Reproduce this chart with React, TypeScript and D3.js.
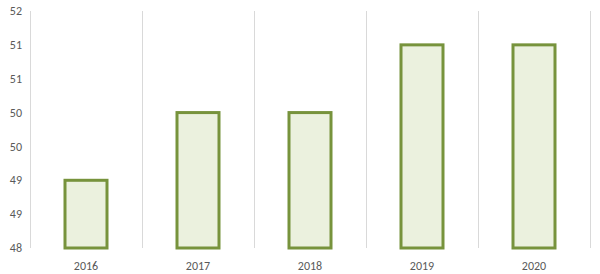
import React from "react";
import * as d3 from "d3";

const categories = ["2016", "2017", "2018", "2019", "2020"];
const values = [49, 50, 50, 51, 51];
const yTicks = [48, 48.5, 49, 49.5, 50, 50.5, 51, 51.5];

const W = 600, H = 274;
const left = 30, right = 590, top = 11, bottom = 248;

export default function App() {
  const x = d3.scaleBand<string>().domain(categories).range([left, right]).paddingInner(0).paddingOuter(0);
  const y = d3.scaleLinear().domain([48, 51.5]).range([bottom, top]);
  const fmt = d3.format(".0f");
  const barW = 42;
  const font = "Calibri, Carlito, 'Liberation Sans', Arial, sans-serif";
  const bounds = [...categories.map((c) => x(c)!), right];
  return (
    <svg width={W} height={H} style={{ position: "absolute", left: 0, top: 0, background: "#fff" }}>
      {bounds.map((bx, i) => (
        <line key={i} x1={bx + 0.5} x2={bx + 0.5} y1={top} y2={bottom} stroke="#d9d9d9" strokeWidth={1} />
      ))}
      {yTicks.map((t) => (
        <text key={t} x={22} y={y(t)} dy="0.35em" textAnchor="end" fontSize={12} fill="#595959" fontFamily={font}>
          {fmt(t)}
        </text>
      ))}
      {categories.map((c, i) => {
        const cx = x(c)! + x.bandwidth() / 2;
        return (
          <g key={c}>
            <rect
              x={cx - barW / 2}
              y={y(values[i])}
              width={barW}
              height={y(48) - y(values[i])}
              fill="#ebf1de"
              stroke="#77933c"
              strokeWidth={3}
            />
            <text x={cx} y={266} dy="0.35em" textAnchor="middle" fontSize={12} fill="#595959" fontFamily={font}>
              {c}
            </text>
          </g>
        );
      })}
    </svg>
  );
}
